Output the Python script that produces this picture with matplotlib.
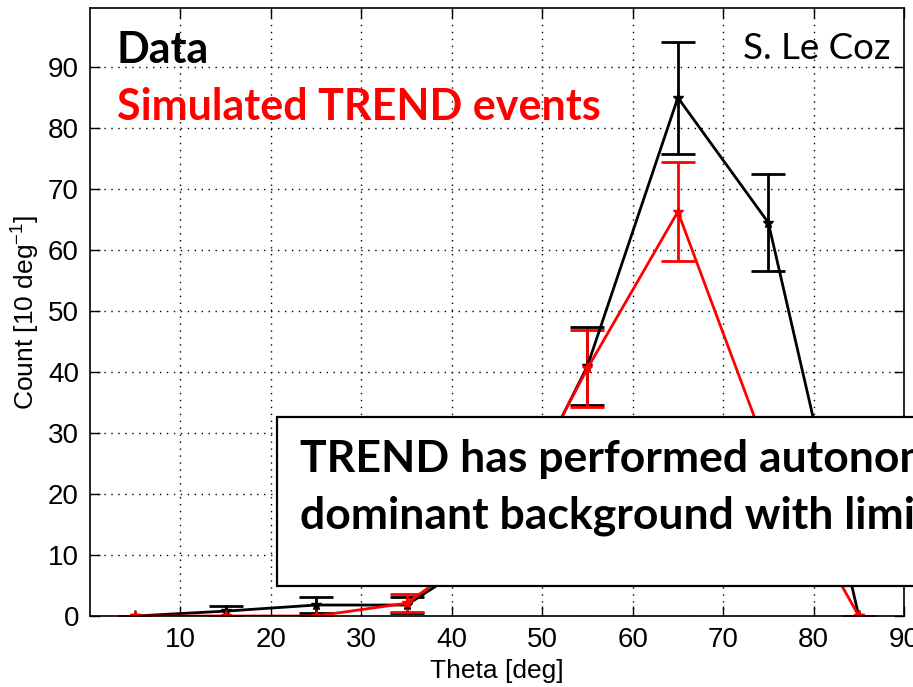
import numpy as np
import matplotlib
matplotlib.use("Agg")
import matplotlib.pyplot as plt
from matplotlib.patches import Rectangle

plt.rcParams['font.family'] = ['Liberation Sans', 'DejaVu Sans']
plt.rcParams['mathtext.fontset'] = 'custom'
plt.rcParams['mathtext.rm'] = 'Liberation Sans'
plt.rcParams['mathtext.it'] = 'Liberation Sans'
plt.rcParams['mathtext.default'] = 'regular'

# theta bin centres [deg]
theta = [5, 15, 25, 35, 45, 55, 65, 75, 85]

# measured data (black) and simulated TREND events (red)
data_counts = [0, 0.8, 1.8, 1.8, 11.3, 41.0, 85.0, 64.5, 0]
data_err = [0, 0.9, 1.3, 1.3, 3.4, 6.4, 9.2, 8.0, 0]
sim_counts = [0, 0, 0, 2.1, 12.5, 40.6, 66.3, 26.5, 0]
sim_err = [0, 0, 0, 1.5, 3.6, 6.3, 8.1, 5.1, 0]

xticks = [10, 20, 30, 40, 50, 60, 70, 80, 90]
yticks = [0, 10, 20, 30, 40, 50, 60, 70, 80, 90]

W, H = 913, 687
fig = plt.figure(figsize=(W / 100, H / 100), dpi=100)
ax = fig.add_axes([90 / W, (H - 616) / H, (904 - 90) / W, (616 - 8) / H])

ax.errorbar(theta, data_counts, yerr=data_err, color='black', lw=2,
            elinewidth=2, capsize=12, capthick=2, marker='*', ms=8)
ax.errorbar(theta, sim_counts, yerr=sim_err, color='red', lw=2,
            elinewidth=2, capsize=12, capthick=2, marker='*', ms=8)

ax.set_xlim(0, 90)
ax.set_ylim(0, 99.7)
ax.set_xticks(xticks)
ax.set_yticks(yticks)
ax.tick_params(direction='in', top=True, right=True, length=7, width=1,
               labelsize=20, pad=8)
ax.grid(True, color='black', linestyle=(0, (1, 4)), linewidth=1)
for s in ax.spines.values():
    s.set_linewidth(1.2)

ax.set_xlabel('Theta [deg]', fontsize=19, labelpad=4)
ax.set_ylabel('Count [10 deg$^{-1}$]', fontsize=19, labelpad=4)

# overlaid slide annotations
def fx(px):
    return px / W

def fy(py):
    return 1 - py / H

fig.text(fx(117), fy(63), 'Data', fontsize=31, fontweight='bold',
         family='Lato', color='black', va='baseline')
fig.text(fx(117), fy(120), 'Simulated TREND events', fontsize=31,
         fontweight='bold', family='Lato', color='red', va='baseline')
fig.text(fx(890), fy(59), 'S. Le Coz', fontsize=26.5, family='Lato',
         color='black', va='baseline', ha='right')

box = Rectangle((fx(277), fy(586)), 1.0, (586 - 417) / H,
                transform=fig.transFigure, facecolor='white',
                edgecolor='black', lw=1.6, zorder=10)
fig.add_artist(box)
fig.text(fx(300), fy(472), 'TREND has performed autonomous', fontsize=32,
         fontweight='bold', family='Lato', va='baseline', zorder=11)
fig.text(fx(300), fy(528), 'dominant background with limited', fontsize=32,
         fontweight='bold', family='Lato', va='baseline', zorder=11)

fig.savefig('out.png', dpi=100)
